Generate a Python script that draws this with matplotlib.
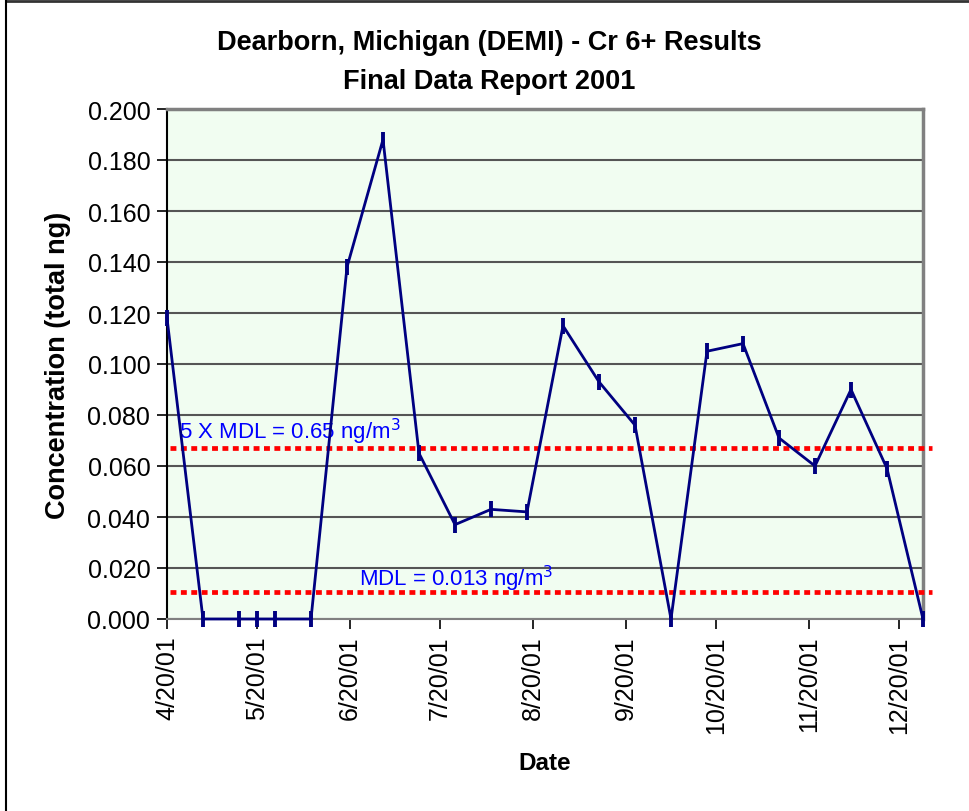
#!/usr/bin/env python3
# -*- coding: utf-8 -*-

"""
Dearborn, Michigan (DEMI) - Cr 6+ results, 2001
"""

import datetime as dt

import matplotlib.pyplot as plt
from matplotlib.lines import Line2D
from matplotlib.patches import Rectangle

plt.switch_backend('agg')
plt.rcParams['font.family'] = ['Liberation Sans', 'DejaVu Sans']
plt.rcParams['hatch.color'] = '#c6f5c6'
plt.rcParams['hatch.linewidth'] = 1.6

# sample dates and concentrations (total ng)
sample_dates = ['2001-04-20', '2001-05-02', '2001-05-14', '2001-05-20', '2001-05-26',
                '2001-06-07', '2001-06-19', '2001-07-01', '2001-07-13', '2001-07-25',
                '2001-08-06', '2001-08-18', '2001-08-30', '2001-09-11', '2001-09-23',
                '2001-10-05', '2001-10-17', '2001-10-29', '2001-11-10', '2001-11-22',
                '2001-12-04', '2001-12-16', '2001-12-28']
concentration = [0.118, 0.0, 0.0, 0.0, 0.0,
                 0.0, 0.138, 0.188, 0.065, 0.037,
                 0.043, 0.042, 0.115, 0.093, 0.076,
                 0.0, 0.105, 0.108, 0.071, 0.060,
                 0.090, 0.059, 0.0]

# detection limit reference lines
mdl_value = 0.0105
mdl5_value = 0.067
mdl_label = 'MDL = 0.013 ng/m$^3$'
mdl5_label = '5 X MDL = 0.65 ng/m$^3$'

tick_dates = ['2001-04-20', '2001-05-20', '2001-06-20', '2001-07-20', '2001-08-20',
              '2001-09-20', '2001-10-20', '2001-11-20', '2001-12-20']
tick_labels = ['4/20/01', '5/20/01', '6/20/01', '7/20/01', '8/20/01',
               '9/20/01', '10/20/01', '11/20/01', '12/20/01']
y_ticks = [0.0, 0.02, 0.04, 0.06, 0.08, 0.10, 0.12, 0.14, 0.16, 0.18, 0.20]


def to_date(s):
    return dt.datetime.strptime(s, '%Y-%m-%d')


X = [to_date(d) for d in sample_dates]
x_ticks = [to_date(d) for d in tick_dates]

W, H = 969, 812
fig = plt.figure(figsize=(W / 100, H / 100), dpi=100)
ax = fig.add_axes([167 / W, (H - 620) / H, (923 - 167) / W, (620 - 110) / H])

# dotted green background of the plot area
ax.set_facecolor('white')
ax.add_patch(Rectangle((0, 0), 1, 1, transform=ax.transAxes, facecolor='#f1fdf1',
                       edgecolor='none', hatch='....', zorder=0))

ax.set_xlim(to_date('2001-04-20'), to_date('2001-12-28'))
ax.set_ylim(0, 0.2)
ax.set_yticks(y_ticks)
ax.set_yticklabels(['%.3f' % v for v in y_ticks])
ax.set_xticks(x_ticks)
ax.set_xticklabels(tick_labels, rotation=90)
ax.tick_params(labelsize=18, direction='out', length=7, width=1.2, pad=5)
ax.yaxis.grid(True, color='#555555', linewidth=1.5, zorder=1)
ax.set_axisbelow(True)

for side in ['top', 'right']:
    ax.spines[side].set_color('#808080')
    ax.spines[side].set_linewidth(2.5)
ax.spines['left'].set_color('black')
ax.spines['left'].set_linewidth(1.5)
ax.spines['bottom'].set_color('#808080')
ax.spines['bottom'].set_linewidth(1.5)

# reference lines
line_x = [to_date('2001-04-21'), to_date('2001-12-31')]
for v in [mdl_value, mdl5_value]:
    ax.plot(line_x, [v, v], color='#ff0000', linewidth=3.4,
            linestyle=(0, (1.25, 0.95)), clip_on=False, zorder=3)

ax.text(to_date('2001-04-24'), 0.0738, mdl5_label, color='#0000ff', fontsize=16,
        va='center', ha='left', zorder=4)
ax.text(to_date('2001-06-23'), 0.0160, mdl_label, color='#0000ff', fontsize=16,
        va='center', ha='left', zorder=4)

# data series
ax.plot(X, concentration, color='#000080', linewidth=2.0, marker='|', markersize=12,
        markeredgewidth=2.8, clip_on=False, zorder=5)

ax.set_xlabel('Date', fontsize=17.5, fontweight='bold')
ax.xaxis.set_label_coords(0.5, -0.258)
ax.set_ylabel('Concentration (total ng)', fontsize=19.5, fontweight='bold')
ax.yaxis.set_label_coords(-0.127, 0.5)

fig.text(0.505, (H - 43) / H, 'Dearborn, Michigan (DEMI) - Cr 6+ Results',
         fontsize=19.5, fontweight='bold', ha='center', va='center')
fig.text(0.505, (H - 82) / H, 'Final Data Report 2001',
         fontsize=19.5, fontweight='bold', ha='center', va='center')

# outer chart frame (cut at the right and bottom)
fig.add_artist(Line2D([6 / W, 1.0], [1 - 2 / H, 1 - 2 / H], color='#333333', linewidth=2))
fig.add_artist(Line2D([6 / W, 6 / W], [0.0, 1 - 2 / H], color='black', linewidth=1.5))

plt.savefig('out.png', dpi=100)
plt.close()
